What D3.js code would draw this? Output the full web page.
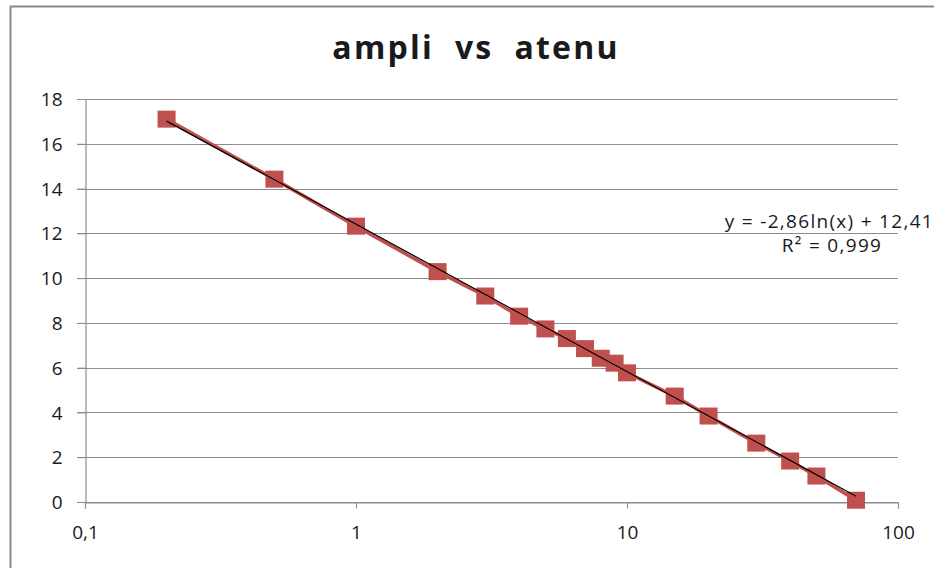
<!DOCTYPE html>
<html>
<head>
<meta charset="utf-8">
<script src="https://cdn.jsdelivr.net/npm/d3@7"></script>
<style>
  body { margin: 0; background: #fff; }
  text { font-family: "Open Sans", Lato, sans-serif; fill: #1a1a1a; }
</style>
</head>
<body>
<div id="chart"></div>
<script>
const width = 934
const height = 568

// Dados
const atenu = [0.2, 0.5, 1, 2, 3, 4, 5, 6, 7, 8, 9, 10, 15, 20, 30, 40, 50, 70]
const ampli = [17.1, 14.42, 12.32, 10.29, 9.2, 8.3, 7.73, 7.3, 6.85, 6.42, 6.2, 5.77, 4.73, 3.84, 2.63, 1.83, 1.16, 0.08]
const xTicks = [0.1, 1, 10, 100]
const yTicks = [0, 2, 4, 6, 8, 10, 12, 14, 16, 18]
// Linha de tendencia (logaritmica)
const trendA = -2.86
const trendB = 12.41
const trendLabel = ["y = -2,86ln(x) + 12,41", "R² = 0,999"]

const margin = { left: 85, right: 36, top: 99, bottom: 66 }

let svg = d3.select("#chart")
  .append("svg")
  .attr("width", width)
  .attr("height", height)

// Borda do grafico
svg.append("rect")
  .attr("x", 10.5).attr("y", 6.5)
  .attr("width", 1000).attr("height", 1000)
  .style("fill", "none")
  .style("stroke", "#8a8a8a")
  .style("stroke-width", 2)

const x = d3.scaleLog()
  .domain([0.1, 100])
  .range([margin.left, width - margin.right])

const y = d3.scaleLinear()
  .domain([0, 18])
  .range([height - margin.bottom, margin.top])

const fmt = d3.formatLocale({ decimal: ",", thousands: ".", grouping: [3], currency: ["", ""] }).format("~g")

// Titulo
svg.append("text")
  .attr("x", 476)
  .attr("y", 59)
  .attr("text-anchor", "middle")
  .style("font-size", "32px")
  .style("font-weight", "bold")
  .style("letter-spacing", "2.2px")
  .style("white-space", "pre")
  .text("ampli  vs  atenu")

// Grade horizontal
svg.append("g")
  .selectAll("line")
  .data(yTicks)
  .enter()
  .append("line")
  .attr("x1", margin.left - 8)
  .attr("x2", width - margin.right)
  .attr("y1", d => Math.round(y(d)) + 0.5)
  .attr("y2", d => Math.round(y(d)) + 0.5)
  .style("stroke", "#8c8c8c")
  .style("stroke-width", 1.2)

// Eixo Y
let yAxis = svg.append("g")
  .attr("transform", `translate(${margin.left + 0.5},0)`)
  .call(d3.axisLeft(y).tickValues(yTicks).tickSize(8).tickPadding(15).tickFormat(fmt))
yAxis.select(".domain").style("stroke", "#8c8c8c").style("stroke-width", 1.2)
yAxis.selectAll(".tick line").style("stroke", "#8c8c8c")
yAxis.selectAll("text").style("font-size", "19px").style("fill", "#1a1a1a").attr("dy", "0.35em")

// Eixo X
let xAxis = svg.append("g")
  .attr("transform", `translate(0,${Math.round(y(0)) + 0.5})`)
  .call(d3.axisBottom(x).tickValues(xTicks).tickSize(6).tickPadding(17).tickFormat(fmt))
xAxis.select(".domain").style("stroke", "#8c8c8c").style("stroke-width", 1.2)
xAxis.selectAll(".tick line").style("stroke", "#8c8c8c")
xAxis.selectAll("text").style("font-size", "19px").style("fill", "#1a1a1a")

const data = atenu.map((d, i) => ({ x: d, y: ampli[i] }))

// Serie
svg.append("path")
  .datum(data)
  .attr("d", d3.line().x(d => x(d.x)).y(d => y(d.y)))
  .style("fill", "none")
  .style("stroke", "#c0504d")
  .style("stroke-width", 3.5)

svg.selectAll(".ponto")
  .data(data)
  .enter()
  .append("rect")
  .attr("class", "ponto")
  .attr("x", d => x(d.x) - 9)
  .attr("y", d => y(d.y) - 8.5)
  .attr("width", 18)
  .attr("height", 17)
  .style("fill", "#c0504d")

// Tendencia
const trendX = [atenu[0], atenu[atenu.length - 1]]
svg.append("path")
  .datum(trendX)
  .attr("d", d3.line().x(d => x(d)).y(d => y(trendA * Math.log(d) + trendB)))
  .style("fill", "none")
  .style("stroke", "#000")
  .style("stroke-width", 1.2)

svg.append("text")
  .attr("x", 934)
  .attr("y", 228)
  .attr("text-anchor", "end")
  .style("font-size", "19px")
  .style("letter-spacing", "1.3px")
  .text(trendLabel[0])

svg.append("text")
  .attr("x", 832)
  .attr("y", 252)
  .attr("text-anchor", "middle")
  .style("font-size", "19px")
  .style("letter-spacing", "1.3px")
  .text(trendLabel[1])
</script>
</body>
</html>
